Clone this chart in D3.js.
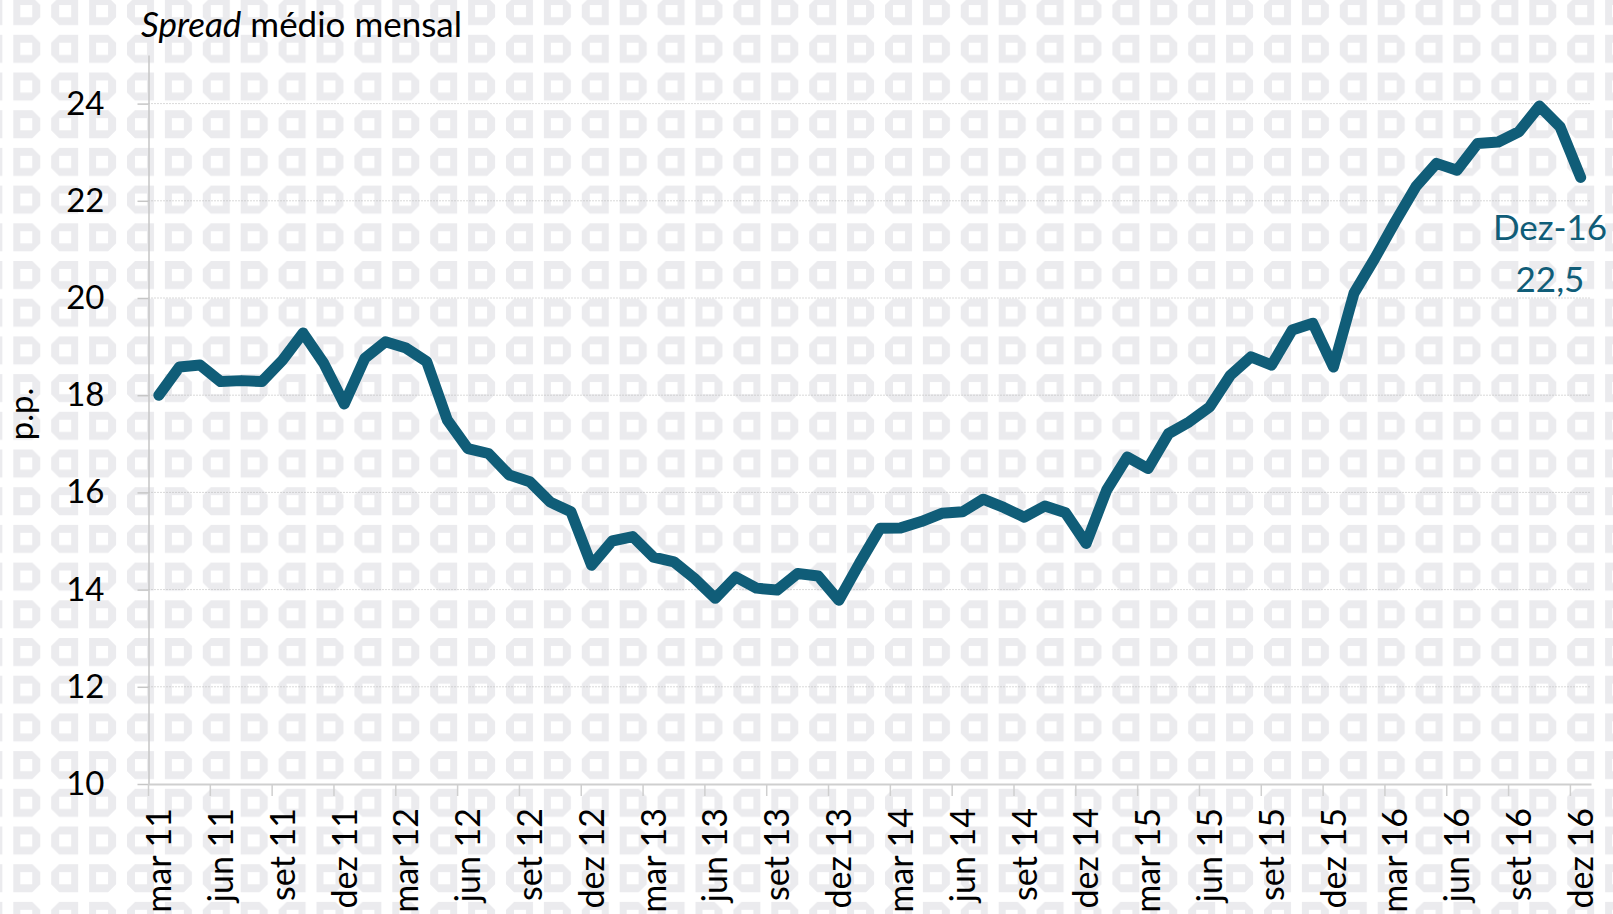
<!DOCTYPE html>
<html>
<head>
<meta charset="utf-8">
<script src="https://cdn.jsdelivr.net/npm/d3@7"></script>
<style>
  body { margin: 0; background: #fff; }
  svg { display: block; font-family: Lato, "Open Sans", sans-serif; }
</style>
</head>
<body>
<svg id="chart" width="1613" height="914"></svg>
<script>
// month labels, mar 11 .. dez 16
const monthNames = ['jan', 'fev', 'mar', 'abr', 'mai', 'jun', 'jul', 'ago', 'set', 'out', 'nov', 'dez']
const years = [11, 12, 13, 14, 15, 16]

// spread médio mensal (p.p.)
const spread2011 = [18.0, 18.58, 18.62, 18.28, 18.3, 18.28, 18.72, 19.28, 18.66, 17.82]
const spread2012 = [18.76, 19.1, 18.97, 18.69, 17.49, 16.9, 16.8, 16.36, 16.22, 15.8, 15.6, 14.5]
const spread2013 = [15.0, 15.09, 14.67, 14.57, 14.23, 13.82, 14.26, 14.03, 13.99, 14.33, 14.28, 13.78]
const spread2014 = [14.54, 15.26, 15.27, 15.4, 15.57, 15.6, 15.86, 15.69, 15.49, 15.72, 15.58, 14.95]
const spread2015 = [16.05, 16.73, 16.49, 17.21, 17.45, 17.76, 18.41, 18.79, 18.62, 19.34, 19.48, 18.58]
const spread2016 = [20.1, 20.81, 21.57, 22.29, 22.77, 22.63, 23.18, 23.21, 23.42, 23.95, 23.52, 22.48]

const yTicks = [10, 12, 14, 16, 18, 20, 22, 24]
const lastLabel = 'Dez-16'
const lastValueText = '22,5'

const months = []
years.forEach(y => monthNames.forEach((m, i) => {
    if (y === 11 && i < 2) return
    months.push(`${m} ${y}`)
}))
const values = [].concat(spread2011, spread2012, spread2013, spread2014, spread2015, spread2016)
const data = months.map((m, i) => ({month: m, value: values[i]}))
const labelMonths = months.filter(m => ['mar', 'jun', 'set', 'dez'].includes(m.split(' ')[0]))

const svg = d3.select('#chart')
const teal = '#105d78'

// --- background tile pattern: mirrored pairs of chamfered frames
const defs = svg.append('defs')
const pat = defs.append('pattern')
    .attr('id', 'bg')
    .attr('patternUnits', 'userSpaceOnUse')
    .attr('x', -24.6).attr('y', -2.9)
    .attr('width', 75.8).attr('height', 37.7)
pat.append('path')
    .attr('d', 'M8,0 L27,0 L27,28 L8,28 L0,20 L0,8 Z M8,8 L8,20 L20,20 L20,8 Z' +
               'M37.9,0 L56.9,0 L64.9,8 L64.9,20 L56.9,28 L37.9,28 Z M44.9,8 L44.9,20 L56.9,20 L56.9,8 Z')
    .attr('fill-rule', 'evenodd')
    .attr('fill', '#ebebee')
svg.append('rect').attr('width', 1613).attr('height', 914).attr('fill', 'url(#bg)')

// --- scales
const x = d3.scaleBand().domain(months).range([148.5, 1591])
const y = d3.scaleLinear().domain([10, 25]).range([784, 55])

// gridlines
svg.append('g').selectAll('line')
    .data(yTicks.filter(d => d > 10))
    .join('line')
    .attr('x1', 148.5).attr('x2', 1591)
    .attr('y1', d => y(d)).attr('y2', d => y(d))
    .attr('stroke', '#b3b3b3')
    .attr('stroke-width', 1)
    .attr('stroke-dasharray', '1,2')

// y axis
const yAxis = svg.append('g')
    .attr('transform', 'translate(148.5,0)')
    .call(d3.axisLeft(y).tickValues(yTicks).tickSize(11).tickSizeOuter(0))
yAxis.select('.domain').attr('stroke', '#c6c6c6').attr('stroke-width', 1.5)
yAxis.selectAll('.tick line').attr('stroke', '#c6c6c6').attr('stroke-width', 1.5)
yAxis.selectAll('.tick text')
    .attr('font-size', 33).attr('fill', '#000')
    .attr('font-family', 'Lato, sans-serif')
    .attr('x', -44)

// x axis labels (band centers)
const xAxis = svg.append('g')
    .attr('transform', `translate(0,${y(10)})`)
    .call(d3.axisBottom(x).tickValues(labelMonths).tickSize(0).tickSizeOuter(0))
xAxis.select('.domain').attr('stroke', '#cfcfcf').attr('stroke-width', 2)
xAxis.selectAll('.tick text')
    .attr('font-size', 34).attr('fill', '#000')
    .attr('font-family', 'Lato, sans-serif')
    .attr('transform', 'rotate(-90)')
    .attr('text-anchor', 'end')
    .attr('x', -24).attr('y', 0).attr('dy', '0.36em')

// x tick marks at band boundaries
svg.append('g').selectAll('line')
    .data(labelMonths)
    .join('line')
    .attr('x1', d => x(d)).attr('x2', d => x(d))
    .attr('y1', y(10)).attr('y2', y(10) + 12)
    .attr('stroke', '#cfcfcf')
    .attr('stroke-width', 1.5)

// --- line
const line = d3.line()
    .x(d => x(d.month) + x.bandwidth() / 2)
    .y(d => y(d.value))
svg.append('path')
    .datum(data)
    .attr('d', line)
    .attr('fill', 'none')
    .attr('stroke', teal)
    .attr('stroke-width', 11)
    .attr('stroke-linejoin', 'round')
    .attr('stroke-linecap', 'round')

// annotation for last point
const ann = svg.append('text')
    .attr('fill', teal)
    .attr('font-size', 35)
    .attr('text-anchor', 'middle')
ann.append('tspan').attr('x', 1550).attr('y', 240).text(lastLabel)
ann.append('tspan').attr('x', 1550).attr('y', 292).text(lastValueText)

// title
const title = svg.append('text')
    .attr('x', 141).attr('y', 37)
    .attr('font-size', 35).attr('fill', '#000')
title.append('tspan').attr('font-style', 'italic').text('Spread')
title.append('tspan').text(' médio mensal')

// y axis title
svg.append('text')
    .attr('transform', 'translate(33,414) rotate(-90)')
    .attr('text-anchor', 'middle')
    .attr('font-size', 33).attr('fill', '#000')
    .text('p.p.')
</script>
</body>
</html>
